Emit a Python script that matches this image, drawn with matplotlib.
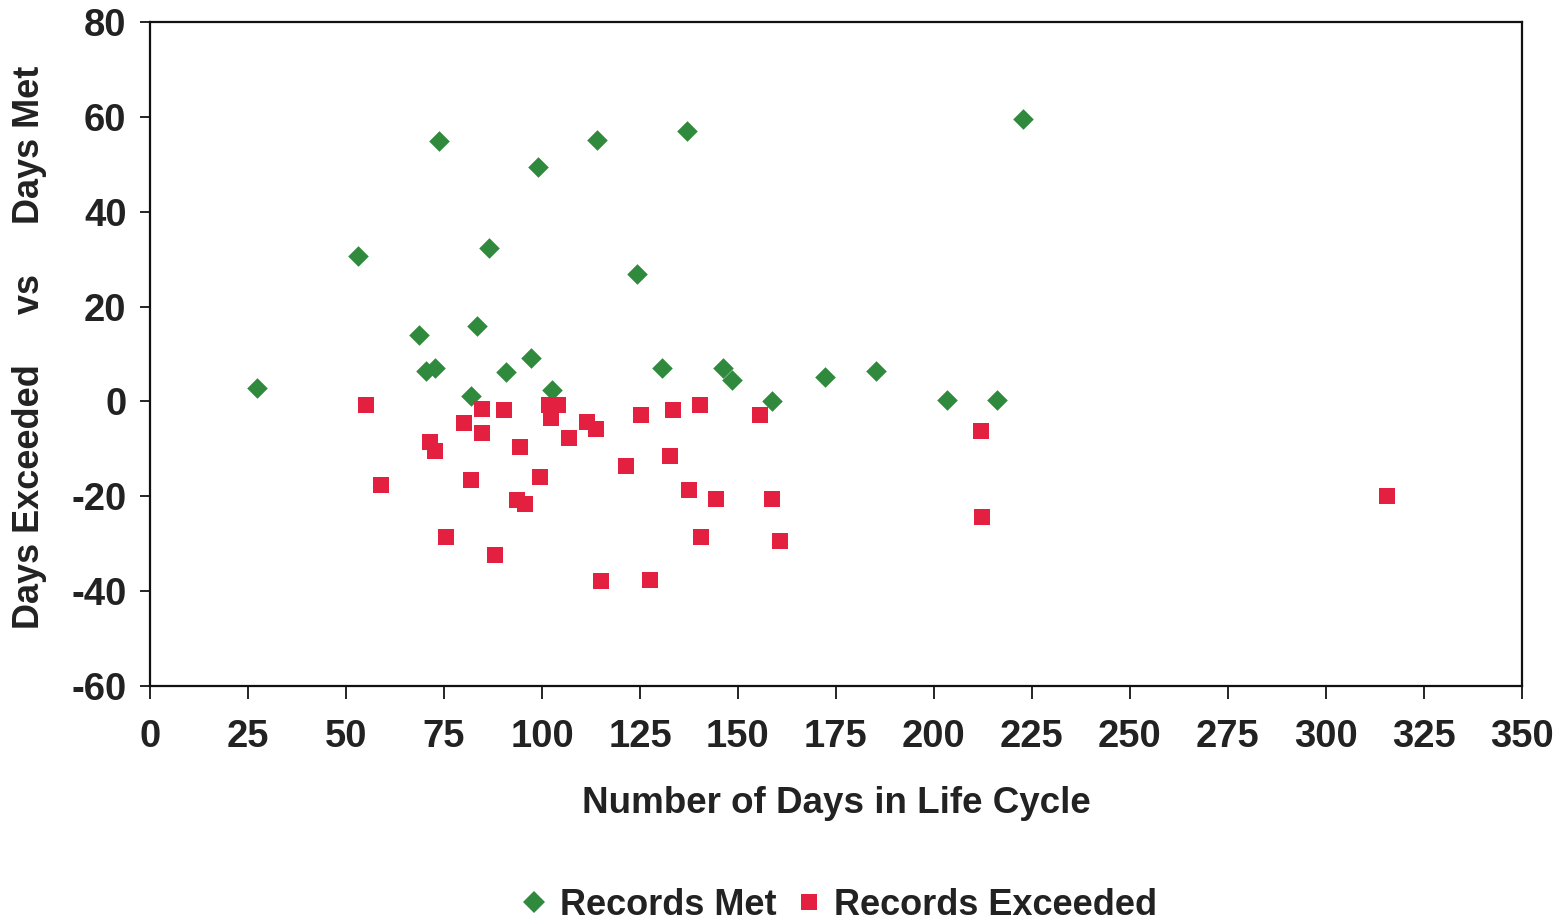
import matplotlib
matplotlib.use("Agg")
import matplotlib.pyplot as plt
from matplotlib.lines import Line2D

met_x = [27.3, 53.1, 73.8, 68.5, 70.3, 72.6, 81.8, 83.5, 86.4, 90.7, 97.3, 98.9,
         102.5, 114.0, 124.2, 130.6, 136.9, 146.1, 148.4, 158.7, 172.2, 185.2,
         203.4, 216.1, 222.8]
met_y = [2.9, 30.7, 55.0, 14.0, 6.4, 7.0, 1.2, 16.0, 32.3, 6.3, 9.2, 49.4,
         2.4, 55.1, 26.9, 7.1, 57.0, 7.0, 4.5, 0.2, 5.2, 6.4,
         0.4, 0.3, 59.6]

exc_x = [55.2, 58.8, 71.5, 72.6, 75.6, 80.2, 81.8, 84.6, 84.6, 87.9, 90.4, 93.5,
         95.6, 94.5, 99.4, 101.9, 104.0, 102.2, 106.8, 111.6, 113.7, 115.0, 121.4,
         125.2, 127.5, 132.6, 133.4, 137.5, 140.3, 140.5, 144.4, 155.6, 158.7,
         160.7, 212.1, 212.3, 315.5]
exc_y = [-0.7, -17.7, -8.5, -10.4, -28.6, -4.5, -16.6, -1.6, -6.7, -32.3, -1.7, -20.7,
         -21.6, -9.7, -15.9, -0.8, -0.8, -3.4, -7.6, -4.4, -5.8, -37.8, -13.6,
         -2.8, -37.6, -11.6, -1.7, -18.6, -0.8, -28.6, -20.5, -2.8, -20.6,
         -29.5, -6.2, -24.4, -19.9]

x_ticks = [0, 25, 50, 75, 100, 125, 150, 175, 200, 225, 250, 275, 300, 325, 350]
y_ticks = [-60, -40, -20, 0, 20, 40, 60, 80]

GREEN = "#2f8a3e"
RED = "#e3203f"
TXT = "#222222"

plt.rcParams['font.family'] = ['Liberation Sans', 'DejaVu Sans']
plt.rcParams['font.weight'] = 'bold'

fig = plt.figure(figsize=(15.64, 9.22), dpi=100)
ax = fig.add_axes([0.096, 0.256, 0.877, 0.72])

ax.scatter(met_x, met_y, marker='D', s=110, color=GREEN, linewidths=0, zorder=3)
ax.scatter(exc_x, exc_y, marker='s', s=130, color=RED, linewidths=0, zorder=3)

ax.set_xlim(0, 350)
ax.set_ylim(-60, 80)
ax.set_xticks(x_ticks)
ax.set_yticks(y_ticks)
ax.set_xticklabels([str(v) for v in x_ticks], fontsize=27.5, fontweight='bold', color=TXT)
ax.set_yticklabels([str(v) for v in y_ticks], fontsize=27.5, fontweight='bold', color=TXT)
ax.tick_params(axis='x', direction='out', length=9, width=1.2, pad=15)
ax.tick_params(axis='y', direction='out', length=7, width=1.2, pad=10)
for sp in ax.spines.values():
    sp.set_linewidth(1.6)
    sp.set_color('#111111')

ax.set_xlabel("Number of Days in Life Cycle", fontsize=26.5, fontweight='bold',
              color=TXT, labelpad=22)
fig.text(0.019, 0.623, "Days Exceeded     vs     Days Met", rotation=90,
         fontsize=26, fontweight='bold', color=TXT, ha='center', va='center')

handles = [Line2D([], [], marker='D', linestyle='none', color=GREEN, markersize=11,
                  markeredgewidth=0),
           Line2D([], [], marker='s', linestyle='none', color=RED, markersize=11,
                  markeredgewidth=0)]
fig.legend(handles, ["Records Met", "Records Exceeded"], loc='center',
           bbox_to_anchor=(0.535, 0.018), ncol=2, frameon=False,
           handletextpad=0.2, columnspacing=0.4, handlelength=1.0,
           prop={'weight': 'bold', 'size': 26})
for t in fig.legends[0].get_texts():
    t.set_color(TXT)

fig.savefig("out.png", dpi=100, facecolor='white')
